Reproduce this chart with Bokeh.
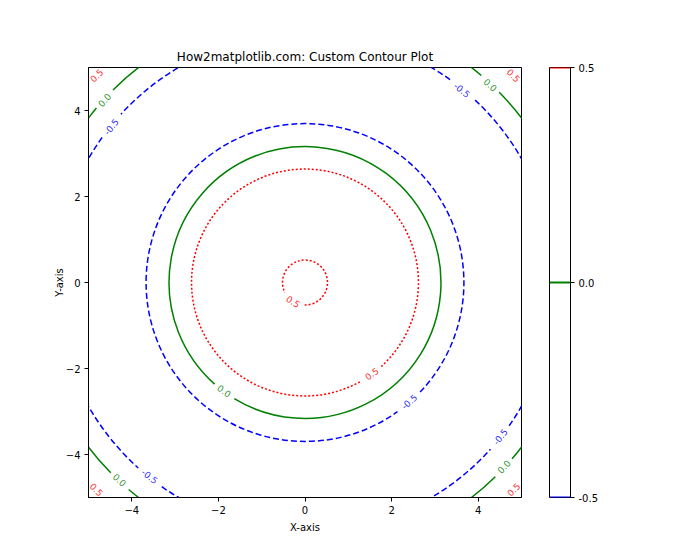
import math
from bokeh.plotting import figure
from bokeh.layouts import row
from bokeh.models import ColumnDataSource, FixedTicker
from bokeh.core.properties import value
from bokeh.embed import file_html
from bokeh.resources import INLINE

# ---- data ----
levels = [-0.5, 0.0, 0.5]
level_labels = ["-0.5", "0.0", "0.5"]
level_colors = ["blue", "green", "red"]
level_dashes = ["6 3", "solid", "2 2"]

# contour radii (circles centred at origin) per level
radii_neg = [3.67, 5.76]
radii_zero = [3.14, 6.28]
radii_pos = [0.52, 2.62, 6.81]

# inline label positions (angle in degrees) on each contour
angles_neg = [[-49], [141, 51, -128.5, -38.5]]
angles_zero = [[-126.5], [137.5, 47, -133, -43]]
angles_pos = [[-122], [-54], [135, 45, -135, -45]]

x_ticks = [-4, -2, 0, 2, 4]
y_ticks = [-4, -2, 0, 2, 4]

FONT = "DejaVu Sans"
PX_PER_UNIT = 43.3

p = figure(frame_width=433, frame_height=430, x_range=(-5, 5), y_range=(-5, 5),
           output_backend="svg", toolbar_location=None,
           min_border_left=88, min_border_right=14, min_border_top=67, min_border_bottom=50,
           title="How2matplotlib.com: Custom Contour Plot")
p.title.align = "center"
p.title.text_font = FONT
p.title.text_font_size = "12px"
p.title.text_font_style = "normal"
p.title.text_color = "black"
p.title.standoff = 7
p.outline_line_color = "black"
p.outline_line_width = 1
p.grid.visible = False
p.xaxis.ticker = FixedTicker(ticks=x_ticks)
p.yaxis.ticker = FixedTicker(ticks=y_ticks)
p.xaxis.axis_label = "X-axis"
p.yaxis.axis_label = "Y-axis"
for ax in (p.xaxis, p.yaxis):
    ax.minor_tick_line_color = None
    ax.major_tick_in = 0
    ax.major_tick_out = 4
    ax.major_tick_line_color = "black"
    ax.axis_line_color = "black"
    ax.major_label_text_font = FONT
    ax.major_label_text_font_size = "10px"
    ax.major_label_text_color = "black"
    ax.axis_label_text_font = FONT
    ax.axis_label_text_font_size = "10px"
    ax.axis_label_text_font_style = "normal"
    ax.axis_label_text_color = "black"
    ax.major_label_standoff = 4
p.xaxis.axis_label_standoff = 5
p.yaxis.axis_label_standoff = -2

all_radii = [radii_neg, radii_zero, radii_pos]
all_angles = [angles_neg, angles_zero, angles_pos]

for li in range(len(levels)):
    lab = level_labels[li]
    col = level_colors[li]
    dash = level_dashes[li]
    arc_r, arc_s, arc_e = [], [], []
    tx, ty, tt, ta = [], [], [], []
    for r, angs in zip(all_radii[li], all_angles[li]):
        gap_px = len(lab) * 5.5 + 8
        hg = (gap_px / 2) / (r * PX_PER_UNIT)
        a = sorted(math.radians(d) for d in angs)
        n = len(a)
        for k in range(n):
            s = a[k] + hg
            e = a[(k + 1) % n] - hg
            if k == n - 1:
                e += 2 * math.pi
            arc_r.append(r); arc_s.append(s); arc_e.append(e)
        for ang in a:
            tx.append(r * math.cos(ang))
            ty.append(r * math.sin(ang))
            rot = ang + math.pi / 2
            while rot > math.pi / 2:
                rot -= math.pi
            while rot <= -math.pi / 2:
                rot += math.pi
            ta.append(rot)
            tt.append(lab)
    src = ColumnDataSource(dict(x=[0] * len(arc_r), y=[0] * len(arc_r), r=arc_r, s=arc_s, e=arc_e))
    p.arc(x="x", y="y", radius="r", start_angle="s", end_angle="e", direction="anticlock",
          source=src, line_color=col, line_width=1.5, line_dash=value(dash))
    tsrc = ColumnDataSource(dict(x=tx, y=ty, t=tt, a=ta))
    p.text(x="x", y="y", text="t", angle="a", source=tsrc, text_color=col, text_alpha=0.85,
           text_font=value(FONT), text_font_size="9px", text_align="center",
           text_baseline="middle")

# ---- colorbar ----
cb = figure(frame_width=21, frame_height=430, x_range=(0, 1), y_range=(-0.5, 0.5),
            output_backend="svg", toolbar_location=None,
            x_axis_location=None, y_axis_location="right",
            min_border_left=14, min_border_right=50, min_border_top=67, min_border_bottom=50)
cb.outline_line_color = "black"
cb.grid.visible = False
cb.yaxis.ticker = FixedTicker(ticks=levels)
cb.yaxis.major_label_overrides = {lv: lb for lv, lb in zip(levels, level_labels)}
cb.yaxis.minor_tick_line_color = None
cb.yaxis.major_tick_in = 0
cb.yaxis.major_tick_out = 4
cb.yaxis.major_tick_line_color = "black"
cb.yaxis.axis_line_color = "black"
cb.yaxis.major_label_text_font = FONT
cb.yaxis.major_label_text_font_size = "10px"
cb.yaxis.major_label_text_color = "black"
cb.yaxis.major_label_standoff = 4
csrc = ColumnDataSource(dict(x0=[0] * 3, x1=[1] * 3, y=levels, c=level_colors))
cb.segment(x0="x0", x1="x1", y0="y", y1="y", source=csrc, line_color="c", line_width=2)

layout = row(p, cb)
open("out.html", "w").write(file_html(layout, INLINE))
